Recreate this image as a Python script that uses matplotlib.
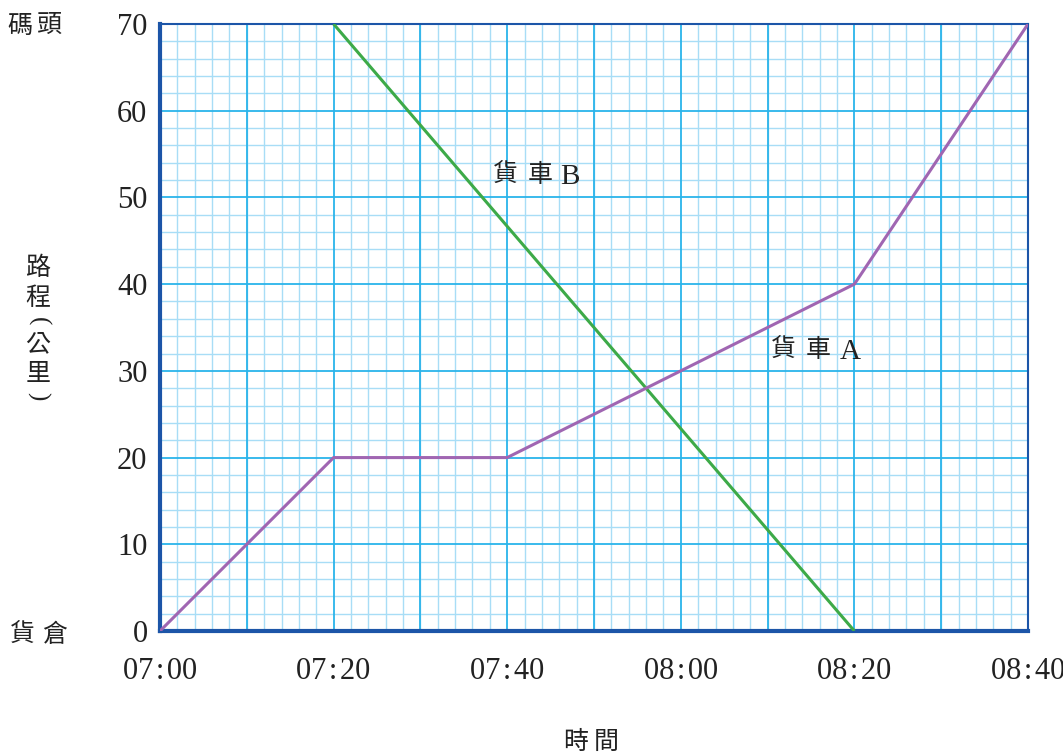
import matplotlib

matplotlib.use("Agg")
import matplotlib.pyplot as plt
from matplotlib.ticker import MultipleLocator

# time in minutes after 07:00, distance in km
truck_a_t = [0, 20, 40, 80, 100]
truck_a_d = [0, 20, 20, 40, 70]
truck_b_t = [20, 80]
truck_b_d = [70, 0]

x_ticks = [0, 20, 40, 60, 80, 100]
x_labels = ["07:00", "07:20", "07:40", "08:00", "08:20", "08:40"]
y_ticks = [0, 10, 20, 30, 40, 50, 60, 70]

SERIF = ["Liberation Serif", "DejaVu Serif"]
CJK = ["Noto Sans CJK TC", "DejaVu Sans"]
INK = "#222222"
W, H = 1063, 753


def put(fig, x_px, y_px, s, family=CJK, size=18, **kw):
    # place text by pixel centre measured from the top-left corner
    fig.text(x_px / W, 1 - y_px / H, s, fontfamily=family, fontsize=size,
             ha="center", va="center", color=INK, **kw)


fig = plt.figure(figsize=(W / 100, H / 100), dpi=100)
ax = fig.add_axes([160 / W, 1 - 631 / H, 868 / W, 607 / H])

ax.set_xlim(0, 100)
ax.set_ylim(0, 70)
ax.xaxis.set_minor_locator(MultipleLocator(2))
ax.yaxis.set_minor_locator(MultipleLocator(2))
ax.grid(which="minor", color="#a8ddf6", linewidth=1.0)
ax.set_axisbelow(True)

# major grid every 10 min / 10 km, labels only every 20 min
for t in range(10, 100, 10):
    ax.axvline(t, color="#2ab4ea", linewidth=1.3, zorder=0.6)
for d in range(10, 70, 10):
    ax.axhline(d, color="#2ab4ea", linewidth=1.3, zorder=0.6)

ax.plot(truck_b_t, truck_b_d, color="#3daa48", linewidth=2.2, solid_capstyle="butt", zorder=3)
ax.plot(truck_a_t, truck_a_d, color="#a066b2", linewidth=2.2, solid_capstyle="butt", zorder=3)

ax.set_xticks(x_ticks)
ax.set_xticklabels([s.replace(":", "\u200a:\u200a") for s in x_labels])
ax.set_yticks(y_ticks)
ax.tick_params(which="both", length=0)
ax.tick_params(axis="x", pad=19)
ax.tick_params(axis="y", pad=9)
for lbl in ax.get_xticklabels() + ax.get_yticklabels():
    lbl.set_fontfamily(SERIF)
    lbl.set_fontsize(22)
    lbl.set_color(INK)

for side, lw in [("left", 3.0), ("bottom", 3.0), ("top", 1.5), ("right", 1.5)]:
    ax.spines[side].set_color("#1c55a8")
    ax.spines[side].set_linewidth(lw)

# line labels
put(fig, 505, 175, "貨")
put(fig, 540, 175, "車")
put(fig, 570, 177, "B", family=SERIF, size=21)
put(fig, 783, 350, "貨")
put(fig, 818, 350, "車")
put(fig, 850, 352, "A", family=SERIF, size=21)

# end labels
put(fig, 20, 26, "碼")
put(fig, 50, 26, "頭")
put(fig, 22, 635, "貨")
put(fig, 55, 635, "倉")

# vertical axis title, brackets turned to sit in a column
put(fig, 38, 268, "路")
put(fig, 38, 298, "程")
put(fig, 38, 321, "(", family=SERIF, size=18, rotation=-90)
put(fig, 38, 344, "公")
put(fig, 38, 374, "里")
put(fig, 38, 396, ")", family=SERIF, size=18, rotation=-90)

put(fig, 576, 742, "時")
put(fig, 606, 742, "間")

fig.savefig("out.png", dpi=100)
